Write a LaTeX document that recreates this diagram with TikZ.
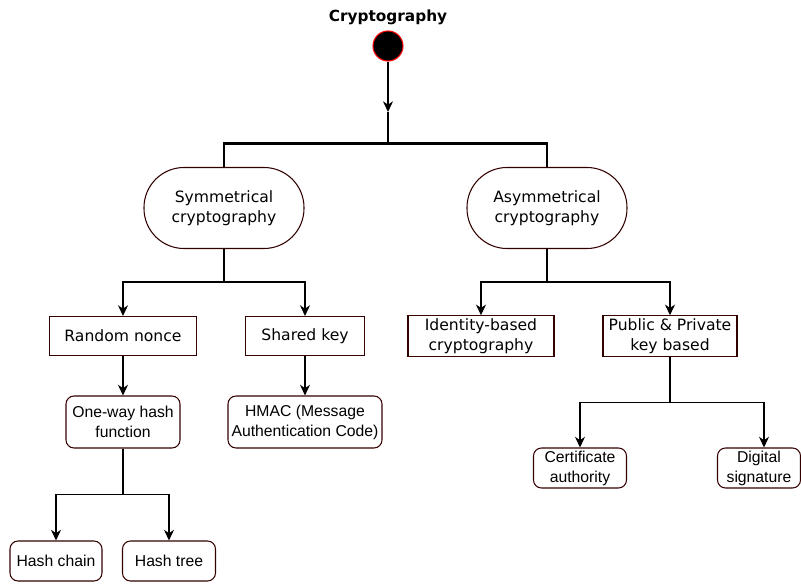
\documentclass[tikz,border=0pt]{standalone}
\usepackage{fontspec}
\setmainfont{DejaVu Sans}
\newfontfamily\leaffamily{Liberation Sans}
\usepackage{tikz}
\usetikzlibrary{arrows, arrows.meta, positioning}
\definecolor{boxline}{HTML}{330000}
\newcommand{\titlefont}{\bfseries\fontsize{11.5}{14}\selectfont}
\newcommand{\boxfont}{\fontsize{11.7}{15}\selectfont}
\newcommand{\leaffont}{\leaffamily\fontsize{11.8}{15}\selectfont}

\begin{document}
\begin{tikzpicture}[->,>={Stealth[length=8pt,width=7.5pt,inset=2.5pt]},shorten >=0pt,auto,node distance=3cm,on grid,
        line width=1.1pt,
        start node/.style={circle,draw=red,fill=black,line width=0.8pt,minimum size=22.5pt,inner sep=0pt},
        pill node/.style={rectangle,rounded corners=30pt,draw=boxline,line width=0.8pt,minimum width=120pt,minimum height=60.75pt,align=center,font=\boxfont},
        box node/.style={rectangle,draw=boxline,line width=0.8pt,minimum height=29.25pt,inner sep=2pt,align=center,font=\boxfont},
        leaf node/.style={rectangle,rounded corners=6pt,draw=boxline,line width=0.8pt,inner sep=1pt,align=center,font=\leaffont}]
    \node[start node, label={[font=\titlefont,label distance=0pt]above:Cryptography}] (root) {};
    \useasboundingbox ([shift={(-291pt,34.5pt)}]root.center) rectangle ([shift={(309.75pt,-404.25pt)}]root.center);
    \node[pill node] (sym) [below left=121.5pt and 123pt of root] {Symmetrical\\cryptography};
    \node[pill node] (asym) [below right=121.5pt and 119.25pt of root] {Asymmetrical\\cryptography};
    \node[box node, minimum width=110.25pt] (nonce) [below left=96pt and 75.75pt of sym] {Random nonce};
    \node[box node, minimum width=89.25pt] (shared) [below right=96pt and 60.75pt of sym] {Shared key};
    \node[box node, minimum width=109.5pt] (ident) [below left=96pt and 49.5pt of asym] {Identity-based\\cryptography};
    \node[box node, minimum width=100.5pt] (pubpriv) [below right=96pt and 92.25pt of asym] {Public \& Private\\key based};
    \node[leaf node, minimum width=85.5pt, minimum height=39pt] (hash) [below=64.5pt of nonce] {One-way hash\\function};
    \node[leaf node, minimum width=115.5pt, minimum height=39pt] (hmac) [below=64.5pt of shared] {HMAC (Message\\Authentication Code)};
    \node[leaf node, minimum width=69pt, minimum height=30pt] (chain) [below left=104.25pt and 50.25pt of hash] {Hash chain};
    \node[leaf node, minimum width=69.75pt, minimum height=30pt] (tree) [below right=104.25pt and 34.5pt of hash] {Hash tree};
    \node[leaf node, minimum width=69.75pt, minimum height=30pt] (ca) [below left=99pt and 67.5pt of pubpriv] {Certificate\\authority};
    \node[leaf node, minimum width=62.25pt, minimum height=30pt] (sig) [below right=99pt and 66.75pt of pubpriv] {Digital\\signature};
    \coordinate (split) at ([yshift=-49.5pt]root.center);
    \coordinate (bar) at ([yshift=17.25pt]sym.north);
    % root to the two families
    \draw[->] (root) -- (split);
    \draw[-, line width=2.2pt] (split) -- (split |- bar);
    \draw[-, line width=2.2pt] (sym.north) |- (asym.north |- bar) -- (asym.north);
    % second level
    \draw[->] (sym.south) -- ++(0,-24.75pt) -| (nonce.north);
    \draw[->] (sym.south) -- ++(0,-24.75pt) -| (shared.north);
    \draw[->] (asym.south) -- ++(0,-24.75pt) -| (ident.north);
    \draw[->] (asym.south) -- ++(0,-24.75pt) -| (pubpriv.north);
    \draw[->] (nonce) -- (hash);
    \draw[->] (shared) -- (hmac);
    % leaves
    \draw[->] (hash.south) -- ++(0,-34.5pt) -| (chain.north);
    \draw[->] (hash.south) -- ++(0,-34.5pt) -| (tree.north);
    \draw[->] (pubpriv.south) -- ++(0,-34.5pt) -| (ca.north);
    \draw[->] (pubpriv.south) -- ++(0,-34.5pt) -| ([xshift=3.75pt]sig.north);
\end{tikzpicture}
\end{document}
